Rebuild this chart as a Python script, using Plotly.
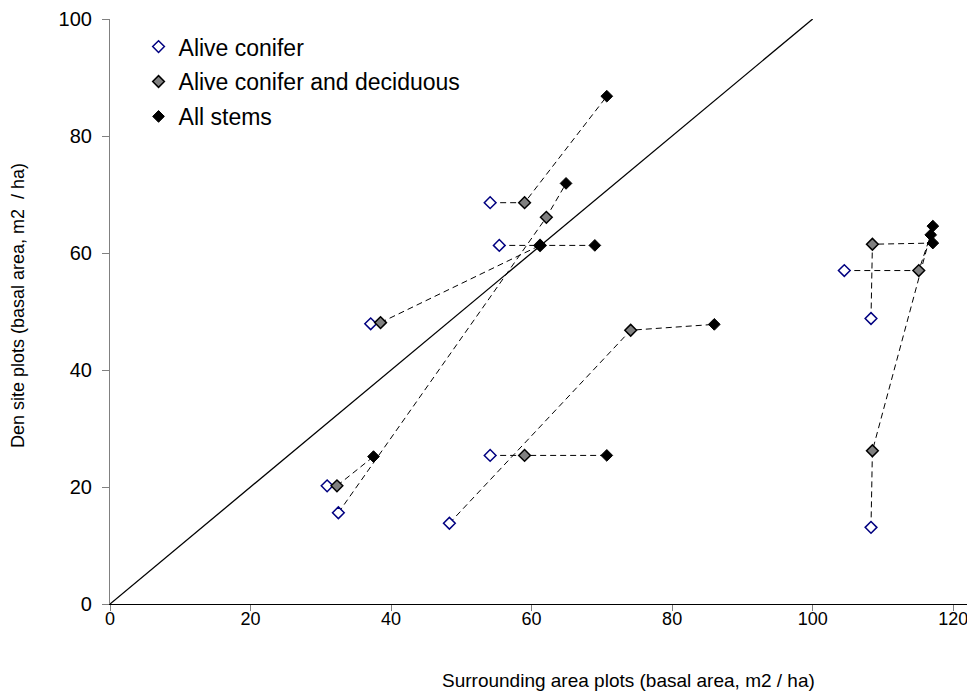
import plotly.graph_objects as go

# Surrounding-area (x) and den-site (y) basal area per site, three measures
conifer_x = [30.9, 32.5, 48.3, 54.1, 54.1, 55.4, 37.1, 104.5, 108.3, 108.3]
conifer_y = [20.2, 15.6, 13.8, 25.4, 68.6, 61.3, 47.9, 57.0, 48.8, 13.1]
condec_x = [32.3, 62.1, 74.1, 59.0, 59.0, 61.2, 38.5, 115.1, 108.5, 108.5]
condec_y = [20.2, 66.1, 46.8, 25.4, 68.6, 61.3, 48.1, 57.0, 61.5, 26.2]
all_x = [37.5, 64.9, 86.0, 70.7, 70.7, 69.0, 61.2, 116.8, 117.1, 117.1]
all_y = [25.2, 71.9, 47.8, 25.4, 86.8, 61.3, 61.3, 63.1, 61.7, 64.6]
one_to_one = [0, 100]

names = ["Alive conifer", "Alive conifer and deciduous", "All stems"]
x_ticks = [0, 20, 40, 60, 80, 100, 120]
y_ticks = [0, 20, 40, 60, 80, 100]

fig = go.Figure()

fig.add_trace(go.Scatter(x=one_to_one, y=one_to_one, mode="lines",
                         line=dict(color="black", width=1.3),
                         showlegend=False, hoverinfo="skip"))

for i in range(len(conifer_x)):
    fig.add_trace(go.Scatter(
        x=[conifer_x[i], condec_x[i], all_x[i]],
        y=[conifer_y[i], condec_y[i], all_y[i]],
        mode="lines", line=dict(color="black", width=1, dash="6px,4px"),
        showlegend=False, hoverinfo="skip"))

fig.add_trace(go.Scatter(x=conifer_x, y=conifer_y, mode="markers", name=names[0],
                         legendgroup="a",
                         marker=dict(symbol="diamond", size=9, color="white",
                                     line=dict(color="#000080", width=1.5))))
fig.add_trace(go.Scatter(x=condec_x, y=condec_y, mode="markers", name=names[1],
                         legendgroup="b",
                         marker=dict(symbol="diamond", size=9, color="#808080",
                                     line=dict(color="black", width=1.5))))
fig.add_trace(go.Scatter(x=all_x, y=all_y, mode="markers", name=names[2],
                         legendgroup="c",
                         marker=dict(symbol="diamond", size=9, color="black",
                                     line=dict(color="black", width=1))))

fig.update_layout(
    width=967, height=686,
    margin=dict(l=102, r=0, t=11, b=90),
    paper_bgcolor="white", plot_bgcolor="white",
    font=dict(family="Liberation Sans, Arial, sans-serif", color="black", size=19),
    legend=dict(x=0.033, y=0.9895, xanchor="left", yanchor="top",
                font=dict(size=23), bgcolor="rgba(0,0,0,0)",
                tracegroupgap=2, itemwidth=30),
    showlegend=True,
    annotations=[
        dict(text="Surrounding area plots (basal area, m2 / ha)", xref="paper", yref="paper",
             x=0.599, y=-0.130, xanchor="center", yanchor="middle", showarrow=False,
             font=dict(size=19)),
        dict(text="Den site plots (basal area, m2 \u00a0/ ha)", xref="paper", yref="paper",
             x=-0.1064, y=0.511, xanchor="center", yanchor="middle", showarrow=False,
             textangle=-90, font=dict(size=18)),
    ],
)

fig.update_xaxes(range=[0, 123.1], tickvals=x_ticks, showgrid=False, zeroline=False,
                 showline=True, linecolor="black", linewidth=1.2, automargin=False,
                 ticks="outside", ticklen=6, tickcolor="#808080",
                 ticklabelstandoff=-8,
                 tickfont=dict(size=18))
fig.update_yaxes(range=[0, 100], tickvals=y_ticks, showgrid=False, zeroline=False,
                 showline=True, linecolor="#808080", linewidth=1.2, automargin=False,
                 ticks="outside", ticklen=7, tickcolor="#808080",
                 ticklabelstandoff=6,
                 tickfont=dict(size=20))

fig.write_html("out.html")
